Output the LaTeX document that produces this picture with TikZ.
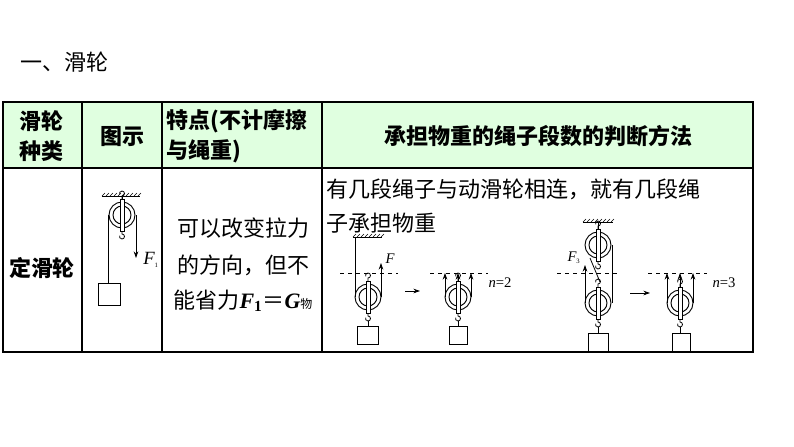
\documentclass[tikz,border=0pt]{standalone}
\usepackage{fontspec}
\setmainfont{Noto Sans CJK SC}
\newfontfamily\serifl{Liberation Serif}
\usetikzlibrary{arrows.meta}
\tikzset{
  hdr/.style={font=\fontsize{16.5}{18}\selectfont\bfseries},
  txt/.style={font=\fontsize{16.5}{18}\selectfont},
  rope/.style={line width=0.6pt},
  dashln/.style={dashed,line width=0.6pt},
  arr/.style={-{Stealth[length=5pt,width=3.5pt]},line width=0.6pt},
  pics/pulley/.style={code={
    \draw[line width=0.7pt] (0,0) circle (13);
    \draw[line width=0.7pt] (0,0) circle (9);
    \draw[line width=0.7pt,fill=white] (-2,-16) rectangle (2,16);
    \draw[line width=0.6pt] (0,-16) -- (0,-19) arc (90:-200:2.5);
    \draw[line width=0.6pt] (0,16) -- (0,19) arc (-90:200:2.5);
  }},
  ceil/.style={line width=0.7pt},
  lbl/.style={font=\serifl\itshape\fontsize{11}{11}\selectfont}
}
\newcommand\hatchline[3]{% x1 x2 y
  \draw[ceil] (#1,#3) -- (#2,#3);
  \pgfmathsetmacro\nn{int((#2-#1)/4)}
  \foreach \k in {0,...,\nn} {\draw[line width=0.4pt] (#1+\k*4,#3) -- (#1+\k*4+3,#3-3);}
}
\begin{document}
\begin{tikzpicture}[x=0.75pt,y=-0.75pt]
\useasboundingbox (0,0) rectangle (794,447);
\fill[white] (0,0) rectangle (794,447);
\node[anchor=west,font=\fontsize{16.5}{18}\selectfont] (title) at (16,62) {一、滑轮};
% table
\fill[green!12] (3,102) rectangle (753,168);
\draw[line width=0.8pt] (3,102) rectangle (753,352);
\draw[line width=0.8pt] (3,168) -- (753,168);
\foreach \x in {82,162,322} \draw[line width=0.8pt] (\x,102) -- (\x,352);
\node[hdr] (h1a) at (42,121) {滑轮};
\node[hdr] (h1b) at (42,151) {种类};
\node[hdr] (h2) at (122,137) {图示};
\node[hdr,anchor=west] (h3a) at (162,121) {特点(不计摩擦};
\node[hdr,anchor=west] (h3b) at (162,151) {与绳重)};
\node[hdr] (h4) at (538,136) {承担物重的绳子段数的判断方法};
\node[hdr] (r1) at (42,268) {定滑轮};
\node[txt] (m1) at (243,228) {可以改变拉力};
\node[txt] (m2) at (243,265) {的方向，但不};
\node[txt] (m3) at (243,301) {能省力\textbf{\serifl\itshape F\textsubscript{\upshape 1}}＝\textbf{\serifl\itshape G}{\fontsize{9}{9}\selectfont 物}};
\node[txt,anchor=west] (t1) at (322,189) {有几段绳子与动滑轮相连，就有几段绳};
\node[txt,anchor=west] (t2) at (322,223) {子承担物重};
% fixed pulley
\hatchline{102}{140}{196}
\draw[rope] (122,196) -- (122,215);
\draw[rope] (108,215) -- (108,283);
\draw[arr] (136,215) -- (136,258);
\pic at (122,215) {pulley};
\draw[line width=0.7pt] (98,283) rectangle (120,305);
\node[lbl,font=\serifl\itshape\fontsize{14}{14}\selectfont] (F1) at (151,260) {F\textsubscript{\upshape\tiny 1}};
% fig 1
\hatchline{353}{382}{237}
\draw[rope] (355,237) -- (355,297);
\draw[arr] (381,297) -- (381,263);
\draw[dashln] (340,273) -- (398,273);
\pic at (368,297) {pulley};
\draw[rope] (368,321) -- (368,326);
\draw[line width=0.7pt] (357,326) rectangle (378,344);
\node[lbl] (F) at (390,259) {F};
\draw[arr] (405,291) -- (420,291);
% fig 2
\draw[dashln] (430,273) -- (488,273);
\draw[arr] (445,297) -- (445,273);
\draw[arr] (471,297) -- (471,273);
\draw[arr] (458,281) -- (458,273);
\pic at (458,297) {pulley};
\draw[rope] (458,321) -- (458,326);
\draw[line width=0.7pt] (449,326) rectangle (467,344);
\node[font=\serifl\fontsize{11}{11}\selectfont] (n2) at (500,283) {\itshape n\upshape =2};
% fig 3
\hatchline{583}{613}{222}
\draw[rope] (598,222) -- (598,245);
\draw[rope] (612,245) -- (612,303);
\draw[arr] (585,303) -- (585,265);
\draw[rope] (590,258) -- (600,282);
\draw[dashln] (557,273) -- (620,273);
\pic at (598,245) {pulley};
\pic at (598,303) {pulley};
\draw[rope] (598,327) -- (598,333);
\draw[line width=0.7pt] (588,333) rectangle (608,352);
\node[lbl] (F3) at (574,258) {F\textsubscript{\upshape\tiny 3}};
\draw[arr] (630,293) -- (650,293);
% fig 4
\draw[dashln] (648,273) -- (707,273);
\draw[arr] (667,303) -- (667,273);
\draw[arr] (693,303) -- (693,273);
\draw[arr] (680,287) -- (680,273);
\pic at (680,303) {pulley};
\draw[rope] (680,327) -- (680,333);
\draw[line width=0.7pt] (672,333) rectangle (690,352);
\node[font=\serifl\fontsize{11}{11}\selectfont] (n3) at (724,283) {\itshape n\upshape =3};
\end{tikzpicture}
\end{document}
